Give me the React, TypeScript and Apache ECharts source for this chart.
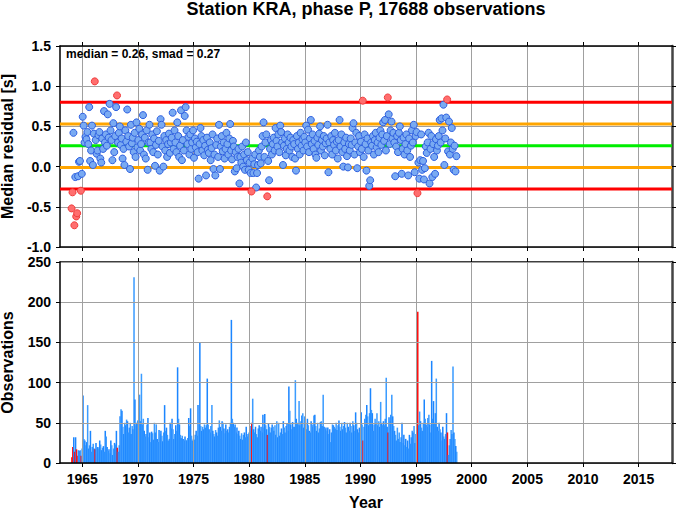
import React, { useEffect, useRef } from 'react';
import * as echarts from 'echarts';

const FONT = "'Liberation Sans', Arial, Helvetica, sans-serif";

const TITLE = 'Station KRA, phase P, 17688 observations';
const START_YEAR = 1964;
const MEDIAN = 0.26;
const SMAD = 0.27;
const X_MIN = 1963;
const X_MAX = 2018;
const xTicks = [1965, 1970, 1975, 1980, 1985, 1990, 1995, 2000, 2005, 2010, 2015];

// monthly observation counts, Jan 1964 .. Aug 1998
const obsCounts = [
  7, 20, 32, 14, 32, 17, 9, 16, 15, 16, 9, 18,
  84, 30, 28, 22, 26, 72, 18, 22, 40, 14, 20, 24,
  18, 17, 25, 19, 20, 18, 28, 23, 16, 19, 21, 14,
  40, 33, 20, 15, 17, 12, 28, 22, 10, 18, 25, 23,
  40, 19, 14, 22, 58, 67, 65, 45, 36, 50, 47, 54,
  52, 38, 44, 50, 36, 46, 42, 231, 79, 47, 50, 53,
  50, 85, 52, 111, 48, 55, 40, 33, 36, 48, 56, 32,
  38, 26, 39, 37, 29, 50, 38, 48, 30, 26, 41, 36,
  40, 34, 27, 38, 72, 40, 44, 35, 28, 30, 50, 43,
  55, 42, 30, 36, 47, 40, 119, 55, 48, 35, 31, 34,
  30, 28, 33, 29, 28, 31, 56, 46, 68, 34, 28, 30,
  29, 35, 40, 34, 72, 48, 150, 46, 40, 45, 42, 48,
  44, 47, 105, 48, 42, 38, 46, 72, 40, 36, 33, 41,
  38, 34, 44, 53, 45, 40, 52, 50, 43, 37, 48, 40,
  42, 38, 45, 50, 178, 55, 50, 45, 48, 38, 44, 36,
  40, 34, 30, 37, 29, 35, 38, 32, 45, 33, 36, 38,
  40, 46, 50, 80, 42, 38, 45, 36, 32, 43, 47, 40,
  45, 38, 60, 44, 61, 47, 42, 35, 49, 45, 38, 44,
  48, 45, 40, 47, 35, 52, 32, 50, 34, 38, 43, 36,
  52, 44, 38, 46, 49, 40, 95, 65, 48, 42, 51, 45,
  45, 103, 55, 50, 48, 77, 47, 52, 59, 62, 44, 58,
  50, 42, 55, 47, 40, 38, 52, 45, 48, 59, 60, 46,
  40, 50, 38, 43, 51, 52, 46, 85, 45, 42, 44, 40,
  44, 36, 42, 26, 38, 48, 47, 45, 43, 50, 41, 47,
  53, 45, 40, 50, 42, 46, 51, 44, 38, 50, 45, 40,
  50, 46, 38, 52, 47, 40, 63, 50, 42, 38, 44, 40,
  63, 48, 28, 45, 55, 60, 72, 58, 47, 62, 93, 66,
  62, 40, 48, 55, 50, 62, 47, 52, 45, 76, 50, 47,
  52, 47, 55, 106, 45, 38, 57, 52, 60, 85, 58, 46,
  40, 35, 28, 44, 30, 38, 26, 32, 50, 25, 35, 22,
  30, 20, 28, 18, 35, 24, 32, 40, 38, 46, 25, 36,
  57, 188, 47, 64, 52, 44, 40, 50, 79, 55, 48, 45,
  56, 60, 48, 38, 127, 55, 77, 50, 62, 105, 45, 40,
  50, 42, 38, 28, 45, 33, 30, 36, 62, 38, 10, 22,
  30, 41, 36, 120, 38, 30, 21, 14,
];

// monthly median residuals [s], same bins
const medianResid = [
  -0.52, -0.32, 0.42, -0.73, -0.13, -0.62, -0.58, -0.12, 0.06, 0.07, -0.30, -0.09,
  0.62, 0.51, 0.30, 0.37, 0.34, 0.43, 0.28, 0.74, 0.07, 0.20, 0.51, 0.02,
  0.41, 1.06, 0.33, 0.16, 0.20, 0.39, 0.43, 0.10, 0.05, 0.35, 0.22, 0.69,
  0.30, 0.40, 0.26, 0.65, 0.36, 0.78, 0.45, 0.33, 0.08, 0.54, 0.18, 0.38,
  0.74, 0.885, 0.30, 0.42, 0.50, 0.27, 0.35, 0.10, 0.22, 0.02, 0.45, 0.31,
  0.71, 0.38, 0.25, -0.03, 0.52, 0.29, 0.36, 0.18, 0.42, 0.12, 0.55, 0.24,
  0.33, 0.47, 0.20, 0.28, 0.40, 0.64, 0.15, 0.36, 0.10, 0.45, -0.04, 0.30,
  0.52, 0.30, 0.22, 0.40, 0.18, 0.35, 0.01, 0.27, 0.44, 0.15, 0.32, -0.05,
  0.59, 0.52, 0.25, 0.00, 0.38, 0.20, 0.33, 0.12, 0.28, 0.41, 0.17, 0.30,
  0.36, 0.67, 0.22, 0.45, 0.30, 0.18, 0.55, 0.38, 0.12, 0.26, 0.70, 0.08,
  0.33, 0.20, 0.63, 0.74, 0.45, 0.28, 0.37, 0.15, 0.40, 0.22, 0.30, 0.45,
  0.11, 0.35, 0.24, 0.31, 0.18, -0.15, 0.28, 0.48, 0.38, 0.20, 0.33, 0.14,
  0.26, -0.11, 0.36, 0.21, 0.17, 0.30, 0.08, 0.23, 0.40, -0.03, 0.15, -0.11,
  0.27, 0.35, 0.12, 0.52, -0.03, 0.25, 0.38, 0.19, 0.30, 0.10, 0.22, 0.42,
  0.28, 0.15, 0.35, 0.53, 0.20, 0.09, 0.32, 0.25, -0.06, 0.18, -0.02, 0.12,
  0.22, -0.21, 0.12, 0.05, 0.25, 0.00, 0.15, -0.04, 0.30, 0.08, 0.18, -0.04,
  0.05, -0.08, -0.31, 0.10, -0.08, 0.03, 0.15, -0.26, -0.08, 0.02, 0.20, 0.12,
  0.04, 0.25, 0.38, 0.55, 0.12, 0.30, 0.40, -0.37, 0.07, -0.17, 0.22, 0.33,
  0.15, 0.28, 0.36, 0.20, 0.48, 0.32, 0.25, 0.40, 0.18, 0.51, 0.43, 0.30,
  0.02, 0.26, 0.35, 0.14, 0.22, 0.40, 0.30, 0.20, 0.36, 0.25, 0.12, 0.33,
  0.28, 0.10, -0.05, 0.38, 0.22, 0.30, 0.15, 0.42, 0.26, 0.34, 0.20, 0.37,
  0.30, 0.51, 0.25, 0.46, 0.18, 0.35, 0.58, 0.28, 0.40, 0.22, 0.32, 0.15,
  0.11, 0.36, 0.27, 0.41, 0.50, 0.20, 0.33, 0.25, 0.38, 0.14, 0.29, 0.35,
  0.52, -0.07, 0.30, 0.22, 0.38, 0.15, 0.33, 0.27, 0.42, 0.20, 0.31, 0.10,
  0.33, 0.58, 0.25, 0.40, 0.18, 0.00, 0.30, 0.22, 0.36, 0.13, -0.01, 0.28,
  0.20, 0.35, 0.27, 0.48, 0.54, 0.15, 0.30, 0.42, -0.02, 0.25, 0.38, 0.18,
  0.31, 0.22, 0.82, 0.12, 0.40, 0.28, -0.05, 0.35, 0.20, -0.24, -0.17, 0.30,
  0.26, 0.38, 0.15, 0.33, 0.42, 0.24, 0.30, 0.18, 0.36, 0.45, 0.27, 0.40,
  0.55, 0.32, 0.58, 0.20, 0.38, 0.86, 0.65, 0.28, 0.45, 0.56, 0.35, 0.42,
  0.30, -0.12, 0.25, 0.38, 0.18, 0.42, 0.50, 0.33, -0.09, 0.22, 0.36, 0.15,
  0.28, 0.40, 0.20, -0.11, 0.35, 0.12, 0.26, 0.45, 0.30, 0.52, -0.07, 0.38,
  0.43, -0.33, 0.05, -0.15, 0.08, 0.40, -0.04, 0.07, -0.16, -0.02, 0.25, 0.17,
  0.30, 0.42, -0.21, 0.22, 0.38, -0.13, 0.28, 0.12, -0.09, 0.34, 0.20, 0.26,
  0.38, 0.58, 0.30, 0.60, 0.45, 0.77, 0.02, 0.35, 0.61, 0.835, 0.19, 0.56,
  0.15, 0.30, 0.48, 0.22, -0.04, 0.26, -0.06, 0.13,
];

const HI = MEDIAN + 2 * SMAD;
const LO = MEDIAN - 2 * SMAD;
const isOutlier = (v: number) => v > HI + 1e-9 || v < LO - 1e-9;

const levels = [
  { value: MEDIAN + 2 * SMAD, color: '#ff0000' },
  { value: MEDIAN + SMAD, color: '#ffa500' },
  { value: MEDIAN - SMAD, color: '#ffa500' },
  { value: MEDIAN - 2 * SMAD, color: '#ff0000' },
  { value: MEDIAN, color: '#00ee00' },
];

export default function App() {
  const ref = useRef<HTMLDivElement>(null);

  useEffect(() => {
    if (!ref.current) return;
    const chart = echarts.init(ref.current, null, { renderer: 'svg' });

    const blue: number[][] = [];
    const red: number[][] = [];
    medianResid.forEach((v, i) => {
      const x = START_YEAR + (i + 0.5) / 12;
      (isOutlier(v) ? red : blue).push([x, v]);
    });
    const bars = obsCounts.map((c, i) => [
      START_YEAR + i / 12,
      c,
      isOutlier(medianResid[i]) ? 1 : 0,
      i,
    ]);

    const gridLine = { show: true, lineStyle: { color: '#a0a0a0', width: 1 } };
    const blackLine = { show: true, onZero: false, lineStyle: { color: '#000', width: 1.5 } };
    const rightLine = { show: true, onZero: false, lineStyle: { color: '#444', width: 2.5 } };
    const xTick = { show: true, length: 4, customValues: xTicks, lineStyle: { color: '#000', width: 1 } };
    const yTick = { show: true, length: 4, lineStyle: { color: '#000', width: 1 } };
    const labelStyle = { fontFamily: FONT, fontWeight: 'bold' as const, fontSize: 14, color: '#000' };
    const nameStyle = { fontFamily: FONT, fontWeight: 'bold' as const, fontSize: 16, color: '#000' };

    const option: any = {
      animation: false,
      backgroundColor: '#fff',
      grid: [
        { left: 60, top: 46, width: 612, height: 201, outerBoundsMode: 'none', containLabel: false },
        { left: 60, top: 262, width: 612, height: 201, outerBoundsMode: 'none', containLabel: false },
      ],
      xAxis: [
        {
          gridIndex: 0, type: 'value', min: X_MIN, max: X_MAX, position: 'bottom',
          axisLine: blackLine, axisTick: xTick, axisLabel: { show: false }, splitLine: gridLine,
        },
        {
          gridIndex: 0, type: 'value', min: X_MIN, max: X_MAX, position: 'top',
          axisLine: blackLine, axisTick: xTick, axisLabel: { show: false }, splitLine: { show: false },
        },
        {
          gridIndex: 1, type: 'value', min: X_MIN, max: X_MAX, position: 'bottom', z: 3,
          axisLine: blackLine, axisTick: xTick,
          axisLabel: { ...labelStyle, margin: 9, customValues: xTicks, formatter: (v: number) => String(v) },
          splitLine: gridLine,
          name: 'Year', nameLocation: 'middle', nameGap: 31, nameTextStyle: nameStyle,
        },
        {
          gridIndex: 1, type: 'value', min: X_MIN, max: X_MAX, position: 'top',
          axisLine: blackLine, axisTick: xTick, axisLabel: { show: false }, splitLine: { show: false },
        },
      ],
      yAxis: [
        {
          gridIndex: 0, type: 'value', min: -1, max: 1.5, interval: 0.5, position: 'left',
          axisLine: blackLine, axisTick: yTick,
          axisLabel: { ...labelStyle, margin: 9, formatter: (v: number) => v.toFixed(1) },
          splitLine: gridLine,
          name: 'Median residual [s]', nameLocation: 'middle', nameGap: 45, nameTextStyle: nameStyle,
        },
        {
          gridIndex: 0, type: 'value', min: -1, max: 1.5, interval: 0.5, position: 'right',
          axisLine: rightLine, axisTick: yTick, axisLabel: { show: false }, splitLine: { show: false },
        },
        {
          gridIndex: 1, type: 'value', min: 0, max: 250, interval: 50, position: 'left', z: 3,
          axisLine: blackLine, axisTick: yTick,
          axisLabel: { ...labelStyle, margin: 9, formatter: (v: number) => String(v) },
          splitLine: gridLine,
          name: 'Observations', nameLocation: 'middle', nameGap: 45, nameTextStyle: nameStyle,
        },
        {
          gridIndex: 1, type: 'value', min: 0, max: 250, interval: 50, position: 'right',
          axisLine: rightLine, axisTick: yTick, axisLabel: { show: false }, splitLine: { show: false },
        },
      ],
      graphic: [
        {
          type: 'text', x: 366, y: 9, z: 10,
          style: {
            text: TITLE, font: `bold 18px ${FONT}`, fill: '#000',
            align: 'center', verticalAlign: 'middle', textAlign: 'center', textVerticalAlign: 'middle',
          },
        },
        {
          type: 'text', x: 66, y: 54, z: 10,
          style: {
            text: `median = ${MEDIAN.toFixed(2)}, smad = ${SMAD.toFixed(2)}`,
            font: `bold 12px ${FONT}`, fill: '#000',
            align: 'left', verticalAlign: 'middle', textAlign: 'left', textVerticalAlign: 'middle',
          },
        },
      ],
      series: [
        ...levels.map((l) => ({
          type: 'line', xAxisIndex: 0, yAxisIndex: 0, silent: true, z: 2,
          data: [[X_MIN, l.value], [X_MAX, l.value]],
          symbol: 'none', lineStyle: { color: l.color, width: 3 },
        })),
        {
          type: 'scatter', xAxisIndex: 0, yAxisIndex: 0, z: 3, silent: true,
          data: blue, symbolSize: 7,
          itemStyle: { color: '#79aaf2', borderColor: '#2d5fe0', borderWidth: 1, opacity: 1 },
        },
        {
          type: 'scatter', xAxisIndex: 0, yAxisIndex: 0, z: 3, silent: true,
          data: red, symbolSize: 7,
          itemStyle: { color: '#ff6e6e', borderColor: '#f03c3c', borderWidth: 1, opacity: 1 },
        },
        {
          type: 'custom', xAxisIndex: 2, yAxisIndex: 2, z: 1, silent: true,
          data: bars,
          encode: { x: 0, y: 1 },
          renderItem: (params: any, api: any) => {
            const x0 = api.value(0);
            const c = api.value(1);
            const out = api.value(2);
            const idx = api.value(3);
            const p0 = api.coord([x0, c]);
            const p1 = api.coord([x0 + 1 / 12, 0]);
            const fill = out ? '#ff1010' : idx % 2 === 0 ? '#1c86ff' : '#3c9cff';
            return {
              type: 'rect',
              shape: { x: p0[0], y: p0[1], width: p1[0] - p0[0] + 0.6, height: p1[1] - p0[1] },
              style: { fill },
            };
          },
        },
      ],
    };

    chart.setOption(option);
    return () => chart.dispose();
  }, []);

  return (
    <div
      ref={ref}
      style={{ position: 'absolute', left: 0, top: 0, width: 678, height: 511, background: '#fff' }}
    />
  );
}
